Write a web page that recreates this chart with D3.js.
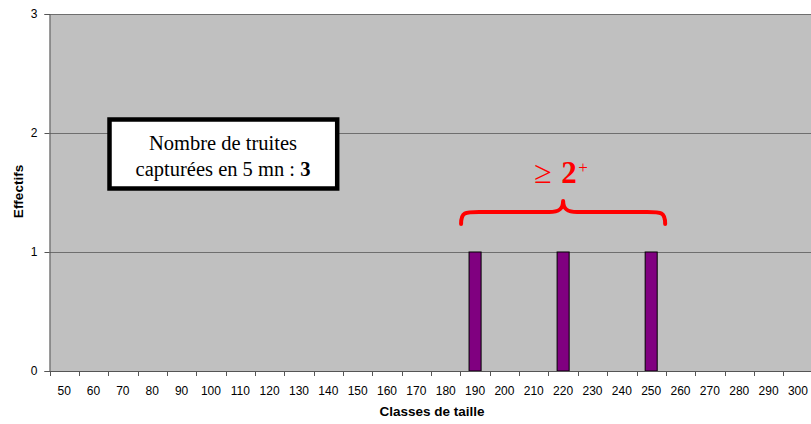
<!DOCTYPE html>
<html>
<head>
<meta charset="utf-8">
<script src="https://cdn.jsdelivr.net/npm/d3@7"></script>
<style>
  html, body { margin: 0; padding: 0; background: #fff; }
  svg { display: block; }
</style>
</head>
<body>
<svg id="chart" width="811" height="424"></svg>
<script>
// Size classes (mm) and number of trout caught in each
const classes = [50, 60, 70, 80, 90, 100, 110, 120, 130, 140, 150, 160, 170, 180, 190,
                 200, 210, 220, 230, 240, 250, 260, 270, 280, 290, 300];
const effectifs = [0, 0, 0, 0, 0, 0, 0, 0, 0, 0, 0, 0, 0, 0, 1,
                   0, 0, 1, 0, 0, 1, 0, 0, 0, 0, 0];
const yTicks = [0, 1, 2, 3];
const bracketFrom = 190, bracketTo = 250;

const svg = d3.select("#chart");
const m = { left: 49.5, right: 812.6, top: 14, bottom: 371 };
const sans = "Arial, 'Liberation Sans', sans-serif";
const serif = "'Liberation Serif', 'Times New Roman', serif";

const x = d3.scaleBand().domain(classes).range([m.left, m.right]).paddingInner(0).paddingOuter(0);
const y = d3.scaleLinear().domain([0, 3]).range([m.bottom, m.top]);

// plot background
svg.append("rect")
  .attr("x", m.left).attr("y", m.top)
  .attr("width", m.right - m.left).attr("height", m.bottom - m.top)
  .attr("fill", "#c0c0c0");

// horizontal gridlines
svg.append("g").selectAll("line")
  .data(yTicks.filter(d => d > 0))
  .join("line")
  .attr("x1", m.left).attr("x2", m.right)
  .attr("y1", d => Math.round(y(d)) + 0.5).attr("y2", d => Math.round(y(d)) + 0.5)
  .attr("stroke", "#6e6e6e").attr("stroke-width", 1);

// bars
const barW = x.bandwidth() * 0.41;
svg.append("g").selectAll("rect")
  .data(classes.map((c, i) => ({ c, v: effectifs[i] })).filter(d => d.v > 0))
  .join("rect")
  .attr("x", d => x(d.c) + (x.bandwidth() - barW) / 2)
  .attr("y", d => y(d.v))
  .attr("width", barW)
  .attr("height", d => y(0) - y(d.v))
  .attr("fill", "#800080")
  .attr("stroke", "#000").attr("stroke-width", 1);

// y axis
const yAxis = d3.axisLeft(y).tickValues(yTicks).tickSize(5).tickPadding(7).tickFormat(d3.format("d"));
const gy = svg.append("g").attr("transform", `translate(${m.left},0)`).call(yAxis);
gy.select(".domain").attr("stroke", "#555");
gy.selectAll(".tick line").attr("stroke", "#555");
gy.selectAll("text").attr("font-family", sans).attr("font-size", 12).attr("fill", "#000");

// x axis: ticks on category boundaries
const gx = svg.append("g").attr("transform", `translate(0,${m.bottom})`);
gx.append("line").attr("x1", m.left).attr("x2", m.right).attr("y1", 0.5).attr("y2", 0.5)
  .attr("stroke", "#555");
gx.selectAll("line.tk").data(classes).join("line").attr("class", "tk")
  .attr("x1", d => Math.round(x(d)) + 0.5).attr("x2", d => Math.round(x(d)) + 0.5)
  .attr("y1", 0).attr("y2", 5).attr("stroke", "#555");
gx.selectAll("text").data(classes).join("text")
  .attr("x", d => x(d) + x.bandwidth() / 2)
  .attr("y", 24)
  .attr("text-anchor", "middle")
  .attr("font-family", sans).attr("font-size", 12).attr("fill", "#000")
  .text(d => d);

// axis titles
svg.append("text")
  .attr("x", 432).attr("y", 416)
  .attr("text-anchor", "middle")
  .attr("font-family", sans).attr("font-size", 13.5).attr("font-weight", "bold")
  .text("Classes de taille");
svg.append("text")
  .attr("transform", "translate(22.5,191.5) rotate(-90)")
  .attr("text-anchor", "middle")
  .attr("font-family", sans).attr("font-size", 13.5).attr("font-weight", "bold")
  .text("Effectifs");

// annotation box
const box = svg.append("g");
box.append("rect")
  .attr("x", 109.5).attr("y", 119.5).attr("width", 227.7).attr("height", 69)
  .attr("fill", "#fff").attr("stroke", "#000").attr("stroke-width", 4.5);
box.append("text").attr("x", 223).attr("y", 150)
  .attr("text-anchor", "middle").attr("font-family", serif).attr("font-size", 20.5)
  .text("Nombre de truites");
const t2 = box.append("text").attr("x", 223).attr("y", 176)
  .attr("text-anchor", "middle").attr("font-family", serif).attr("font-size", 20.5);
t2.append("tspan").text("capturées en 5 mn : ");
t2.append("tspan").attr("font-weight", "bold").text("3");

// red brace spanning the bars
const bx0 = x(bracketFrom) + x.bandwidth() / 2 - 14;
const bx1 = x(bracketTo) + x.bandwidth() / 2 + 14;
const bmid = (bx0 + bx1) / 2;
const yEnd = 224, yArm = 212, yTip = 201;
const brace = d3.path();
brace.moveTo(bx0, yEnd);
brace.bezierCurveTo(bx0, yArm, bx0 + 4, yArm, bx0 + 18, yArm);
brace.lineTo(bmid - 14, yArm);
brace.bezierCurveTo(bmid - 4, yArm, bmid, yArm - 3, bmid, yTip);
brace.bezierCurveTo(bmid, yArm - 3, bmid + 4, yArm, bmid + 14, yArm);
brace.lineTo(bx1 - 18, yArm);
brace.bezierCurveTo(bx1 - 4, yArm, bx1, yArm, bx1, yEnd);
svg.append("path").attr("d", brace.toString())
  .attr("fill", "none").attr("stroke", "#ff0000").attr("stroke-width", 4)
  .attr("stroke-linecap", "round").attr("stroke-linejoin", "round");

const lab = svg.append("g").attr("fill", "#ff0000").attr("font-family", serif);
lab.append("text").attr("x", bmid - 29).attr("y", 183).attr("font-size", 32).text("\u2265");
lab.append("text").attr("x", bmid - 2).attr("y", 183).attr("font-size", 31)
  .attr("font-weight", "bold").text("2");
lab.append("text").attr("x", bmid + 15).attr("y", 173).attr("font-size", 17).text("+");
</script>
</body>
</html>
